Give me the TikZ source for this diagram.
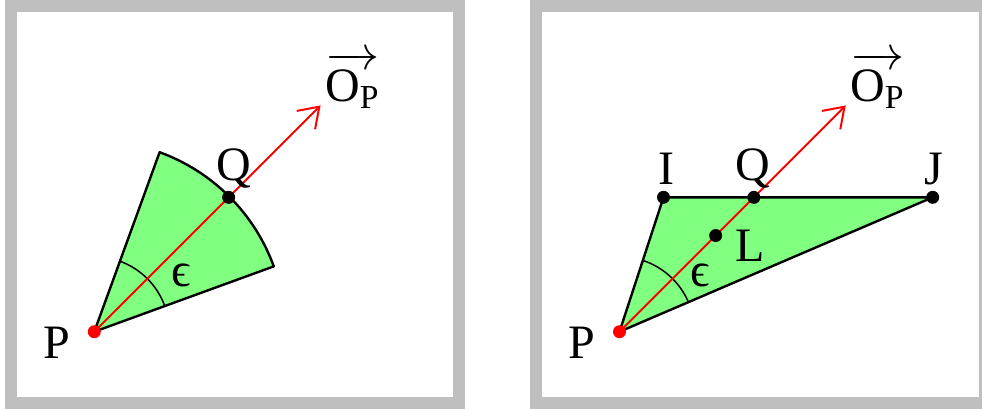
\RequirePackage{fix-cm}
\documentclass[tikz,border=0pt]{standalone}
\usepackage{amsmath}
\usepackage{fontspec}
\setmainfont{Liberation Serif}
\usetikzlibrary{arrows.meta,calc}
\definecolor{lgreen}{RGB}{128,255,128}
\definecolor{bordergray}{RGB}{191,191,191}
\begin{document}
\begin{tikzpicture}[x=1pt,y=-1pt,
  frame/.style={draw=bordergray,line width=12pt},
  edge/.style={draw=black,line width=2.4pt,line join=round},
  ray/.style={draw=red,line width=2pt,-{Straight Barb[length=19pt,width=26pt]}},
  dotb/.style={circle,fill=black,inner sep=0pt,minimum size=13pt},
  dotr/.style={circle,fill=red,inner sep=0pt,minimum size=13pt},
  lab/.style={font=\fontsize{48}{54}\selectfont,inner sep=0pt,anchor=base},
  anglearc/.style={draw=black,line width=1.5pt}]
\useasboundingbox (0,0) rectangle (982,410);

% ---------- left panel ----------
\draw[frame] (10.8,5.5) rectangle (459.3,402.5);
\coordinate (P1) at (94.3,331.7);
\coordinate (Q1) at ($(P1)+(-45:190)$);
\coordinate (E1) at ($(P1)+(-45:320)$);
\path[fill=lgreen] (P1) -- ++(-70:191) arc[start angle=-70,end angle=-20,radius=191] -- cycle;
\draw[edge] (P1) -- ++(-70:191) arc[start angle=-70,end angle=-20,radius=191] -- cycle;
\draw[anglearc] (P1) ++(-70:75) arc[start angle=-70,end angle=-20,radius=75];
\draw[ray] (P1) -- (E1);
\node[dotb] (Q1d) at (Q1) {};
\node[dotr] (P1d) at (P1) {};
\node[lab] (lP1) at (56.7,358.3) {P};
\node[lab] (lQ1) at (234,180) {Q};
\node[lab] (le1) at (181.7,286.7) {ϵ};
\node[lab,anchor=base west] (lO1) at (325,101) {$\overrightarrow{\text{O}_{\text{P}}}$};

% ---------- right panel ----------
\draw[frame] (536,5.5) rectangle (984.5,402.5);
\coordinate (P2) at (619.5,331.7);
\coordinate (I2) at (663.5,197.3);
\coordinate (J2) at (932.7,197.3);
\coordinate (Q2) at ($(P2)+(-45:190)$);
\coordinate (L2) at ($(P2)+(-45:136)$);
\coordinate (E2) at ($(P2)+(-45:320)$);
\path[fill=lgreen] (P2) -- (I2) -- (J2) -- cycle;
\draw[edge] (P2) -- (I2) -- (J2) -- cycle;
\draw[anglearc] ($(P2)!75pt!(J2)$) arc[start angle=-23.22,end angle=-71.87,radius=75];
\draw[ray] (P2) -- (E2);
\node[dotb] (I2d) at (I2) {};
\node[dotb] (Q2d) at (Q2) {};
\node[dotb] (J2d) at (J2) {};
\node[dotb] (L2d) at (L2) {};
\node[dotr] (P2d) at (P2) {};
\node[lab] (lP2) at (581.7,358.3) {P};
\node[lab] (lI2) at (666,184.3) {I};
\node[lab] (lQ2) at (752.7,180) {Q};
\node[lab] (lJ2) at (934,184.3) {J};
\node[lab] (lL2) at (750.3,261.7) {L};
\node[lab] (le2) at (700,286.7) {ϵ};
\node[lab,anchor=base west] (lO2) at (850,101) {$\overrightarrow{\text{O}_{\text{P}}}$};
\end{tikzpicture}
\end{document}
